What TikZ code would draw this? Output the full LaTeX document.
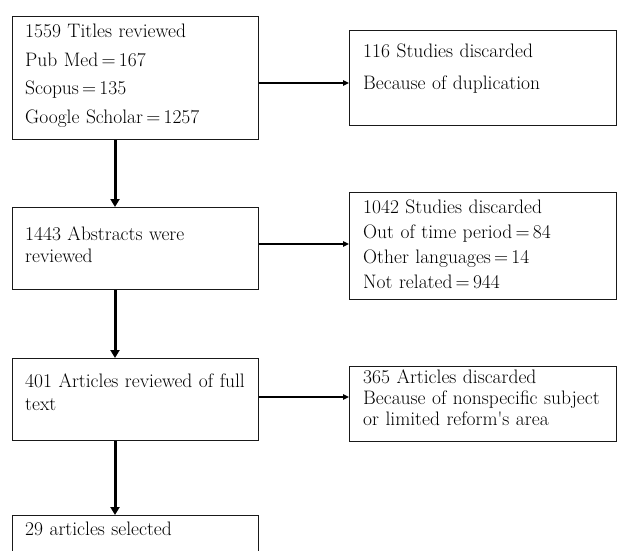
\documentclass[tikz,border=0pt]{standalone}
\usetikzlibrary{arrows.meta}
\begin{document}
\begin{tikzpicture}[x=1pt,y=-1pt,
  box/.style={draw=black!90, line width=1.3pt, rectangle, inner sep=0pt, anchor=north west},
  label/.style={anchor=base west, inner sep=0pt, text width=270pt, align=left, text=black},
  varrow/.style={line width=3pt, -{Triangle[width=9pt,length=8pt]}, black},
  harrow/.style={line width=1.3pt, -{Triangle[width=5.5pt,length=6pt]}, black}]
\useasboundingbox (0,0) rectangle (619,551);
\clip (0,0) rectangle (619,551);
% boxes
\node[box, minimum width=246pt, minimum height=123pt] (b1) at (12,16) {};
\node[box, minimum width=267pt, minimum height=95pt] (b2) at (349,30) {};
\node[box, minimum width=246pt, minimum height=82pt] (b3) at (12,207) {};
\node[box, minimum width=267pt, minimum height=107pt] (b4) at (349,192) {};
\node[box, minimum width=246pt, minimum height=82pt] (b5) at (12,358) {};
\node[box, minimum width=267pt, minimum height=75pt] (b6) at (349,366) {};
\node[box, minimum width=246pt, minimum height=60pt] (b7) at (12,515) {};
% texts
\node[label, font=\fontsize{19.5}{28.5}\selectfont] (t1) at (25,38) {1559 Titles reviewed\\Pub Med\,=\,167\\Scopus\,=\,135\\Google Scholar\,=\,1257};
\node[label, font=\fontsize{19.5}{32}\selectfont] (t2) at (363,58) {116 Studies discarded\\Because of duplication};
\node[label, font=\fontsize{19.5}{22}\selectfont] (t3) at (25,240) {1443 Abstracts were\\reviewed};
\node[label, font=\fontsize{19.5}{25}\selectfont] (t4) at (363,213) {1042 Studies discarded\\Out of time period\,=\,84\\Other languages\,=\,14\\Not related\,=\,944};
\node[label, font=\fontsize{19.5}{23}\selectfont] (t5) at (25,387) {401 Articles reviewed of full\\text};
\node[label, font=\fontsize{19.5}{21}\selectfont] (t6) at (363,383) {365 Articles discarded\\Because of nonspecific subject\\or limited reform\textquotesingle s area};
\node[label, font=\fontsize{19.5}{22}\selectfont] (t7) at (25,535) {29 articles selected};
% arrows
\draw[harrow] (b1.east |- 0,83) -- (b2.west |- 0,83);
\draw[harrow] (b3.east |- 0,244) -- (b4.west |- 0,244);
\draw[harrow] (b5.east |- 0,397) -- (b6.west |- 0,397);
\draw[varrow] (b1.south -| 115,0) -- (b3.north -| 115,0);
\draw[varrow] (b3.south -| 115,0) -- (b5.north -| 115,0);
\draw[varrow] (b5.south -| 115,0) -- (b7.north -| 115,0);
\end{tikzpicture}
\end{document}
